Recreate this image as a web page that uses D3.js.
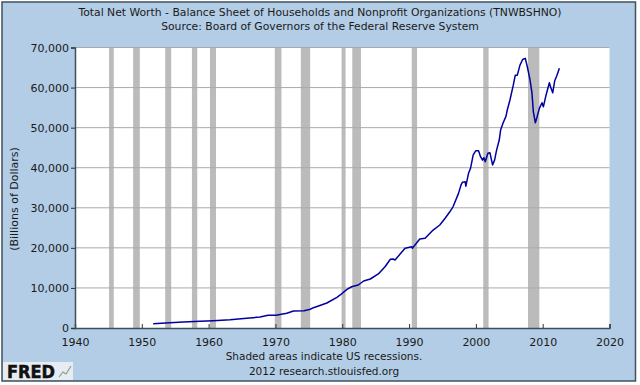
<!DOCTYPE html>
<html>
<head>
<meta charset="utf-8">
<script src="https://d3js.org/d3.v7.min.js"></script>
<style>
html, body { margin: 0; padding: 0; background: #fff; }
svg { display: block; }
text { font-family: "DejaVu Sans", sans-serif; font-size: 11px; fill: #1a1a1a; }
</style>
</head>
<body>
<script>
var titleLines = ["Total Net Worth - Balance Sheet of Households and Nonprofit Organizations (TNWBSHNO)",
                  "Source: Board of Governors of the Federal Reserve System"];
var footLines = ["Shaded areas indicate US recessions.", "2012 research.stlouisfed.org"];
var yLabel = "(Billions of Dollars)";

var xTicks = [1940, 1950, 1960, 1970, 1980, 1990, 2000, 2010, 2020];
var yTicks = [0, 10000, 20000, 30000, 40000, 50000, 60000, 70000];

var recessionStart = [1945.1, 1948.7, 1953.5, 1957.5, 1960.2, 1969.9, 1973.8, 1979.9, 1981.5, 1990.4, 2001.1, 2007.8];
var recessionEnd   = [1945.8, 1949.7, 1954.4, 1958.3, 1961.1, 1970.9, 1975.2, 1980.5, 1982.8, 1991.2, 2001.9, 2009.5];

var years = [1951.7, 1954.2, 1956.2, 1958.7, 1960.7, 1963.2, 1965.7, 1967.7, 1968.9, 1970.1,
  1971.7, 1972.7, 1974.3, 1975.2, 1975.7, 1977.7, 1979.2, 1979.7, 1980.7, 1981.4,
  1982.4, 1983.2, 1984.2, 1985.4, 1986.4, 1987.2, 1987.6, 1987.9, 1989.4, 1990.4,
  1990.5, 1991.6, 1992.4, 1993.6, 1994.6, 1995.4, 1996.1, 1996.6, 1997.4, 1997.8,
  1998.0, 1998.4, 1998.5, 1998.9, 1999.2, 1999.6, 2000.0, 2000.4, 2000.7, 2001.0,
  2001.2, 2001.4, 2001.8, 2002.1, 2002.5, 2002.8, 2003.1, 2003.5, 2003.7, 2004.1,
  2004.5, 2004.7, 2005.1, 2005.6, 2005.9, 2006.2, 2006.6, 2007.0, 2007.4, 2007.7,
  2008.1, 2008.4, 2008.6, 2008.9, 2009.1, 2009.5, 2009.9, 2010.1, 2010.5, 2011.0,
  2011.2, 2011.5, 2011.8, 2012.1, 2012.5];
var netWorth = [1050, 1320, 1500, 1670, 1820, 2070, 2420, 2750, 3170, 3170,
  3670, 4240, 4320, 4670, 5070, 6240, 7660, 8240, 9650, 10300,
  10730, 11730, 12230, 13480, 15300, 17150, 17220, 16970, 19900, 20300,
  19900, 22200, 22400, 24450, 25700, 27400, 29000, 30300, 33600, 35800,
  36400, 36500, 35400, 38600, 39850, 43200, 44250, 44250, 42750, 41900,
  42500, 41500, 43600, 43750, 40700, 41900, 44400, 46900, 49400, 51300,
  52800, 54400, 56900, 60600, 63100, 63100, 65600, 67000, 67300, 65200,
  61900, 58600, 54000, 51200, 52300, 54800, 56200, 55200, 58100, 61200,
  60100, 58700, 61700, 62900, 64800];

var width = 640, height = 385;
var margin = {top: 47.5, right: 30.5, bottom: 57, left: 75};

var svg = d3.select("body").append("svg")
    .attr("width", width)
    .attr("height", height);

// blue panel with dark edge
svg.append("rect")
    .attr("x", 2).attr("y", 2)
    .attr("width", 633.5).attr("height", 379)
    .attr("fill", "#b3cde6")
    .attr("stroke", "#3f5261")
    .attr("stroke-width", 1.5);

var x = d3.scaleLinear()
    .domain([1940, 2020])
    .range([margin.left, width - margin.right]);

var y = d3.scaleLinear()
    .domain([0, 70000])
    .range([height - margin.bottom, margin.top]);

svg.append("rect")
    .attr("x", x(1940)).attr("y", y(70000))
    .attr("width", x(2020) - x(1940))
    .attr("height", y(0) - y(70000))
    .attr("fill", "#fff");

svg.selectAll(".recession")
    .data(recessionStart)
  .enter().append("rect")
    .attr("class", "recession")
    .attr("x", function(d) { return x(d); })
    .attr("y", y(70000))
    .attr("width", function(d, i) { return x(recessionEnd[i]) - x(d); })
    .attr("height", y(0) - y(70000))
    .attr("fill", "#bbbbbb");

svg.selectAll(".grid")
    .data(yTicks.filter(function(d) { return d > 0; }))
  .enter().append("line")
    .attr("class", "grid")
    .attr("x1", x(1940)).attr("x2", x(2020))
    .attr("y1", function(d) { return y(d); })
    .attr("y2", function(d) { return y(d); })
    .attr("stroke", "#aaaaaa");

var line = d3.line()
    .x(function(d, i) { return x(years[i]); })
    .y(function(d) { return y(d); });

svg.append("path")
    .datum(netWorth)
    .attr("fill", "none")
    .attr("stroke", "#0000a0")
    .attr("stroke-width", 1.5)
    .attr("stroke-linejoin", "round")
    .attr("d", line);

var xAxis = svg.append("g")
    .attr("transform", "translate(0," + y(0) + ")")
    .call(d3.axisBottom(x).tickValues(xTicks).tickFormat(d3.format("d")).tickSize(-4).tickPadding(10));

var yAxis = svg.append("g")
    .attr("transform", "translate(" + x(1940) + ",0)")
    .call(d3.axisLeft(y).tickValues(yTicks).tickFormat(d3.format(",")).tickSize(4).tickPadding(2));

xAxis.select(".domain").attr("stroke", "#3f4f5c").attr("stroke-width", 1.5);
yAxis.select(".domain").attr("stroke", "#3f4f5c").attr("stroke-width", 1.5);
xAxis.selectAll(".tick line").attr("stroke", "#333");
yAxis.selectAll(".tick line").attr("stroke", "#333");
xAxis.selectAll("text").style("font-size", "11px").style("font-family", "DejaVu Sans");
yAxis.selectAll("text").style("font-size", "11px").style("font-family", "DejaVu Sans");

svg.selectAll(".title")
    .data(titleLines)
  .enter().append("text")
    .attr("class", "title")
    .attr("x", 320)
    .attr("y", function(d, i) { return 16 + i * 14; })
    .attr("text-anchor", "middle")
    .style("font-size", "10.8px")
    .text(function(d) { return d; });

svg.selectAll(".foot")
    .data(footLines)
  .enter().append("text")
    .attr("class", "foot")
    .attr("x", 324)
    .attr("y", function(d, i) { return 360 + i * 14.5; })
    .attr("text-anchor", "middle")
    .style("font-size", "10.5px")
    .text(function(d) { return d; });

svg.append("text")
    .attr("transform", "translate(18,199)rotate(-90)")
    .attr("text-anchor", "middle")
    .text(yLabel);

// FRED logo
var logo = svg.append("g").attr("transform", "translate(3,362)");
logo.append("rect")
    .attr("width", 70).attr("height", 18)
    .attr("fill", "#e6ecf1");
logo.append("text")
    .attr("x", 4).attr("y", 15.5)
    .style("font-size", "17px")
    .style("font-weight", "bold")
    .style("fill", "#111")
    .style("stroke", "#111")
    .style("stroke-width", 0.5)
    .attr("textLength", 48)
    .attr("lengthAdjust", "spacingAndGlyphs")
    .text("FRED");
logo.append("path")
    .attr("d", "M56 15L60 10L63 12L68 4")
    .attr("fill", "none")
    .attr("stroke", "#8aa088")
    .attr("stroke-width", 1.2);
</script>
</body>
</html>
